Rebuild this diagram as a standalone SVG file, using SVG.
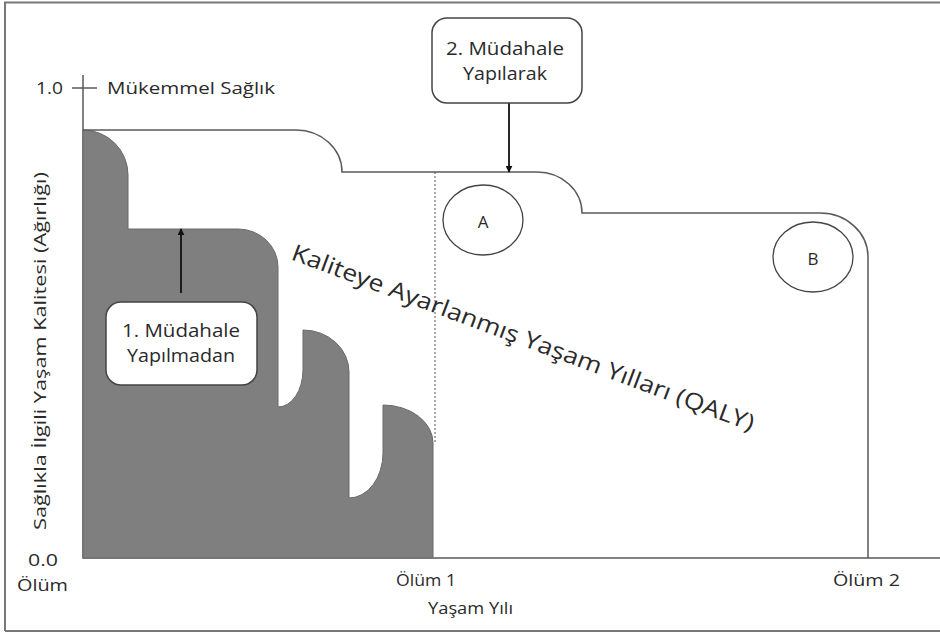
<svg xmlns="http://www.w3.org/2000/svg" width="940" height="635" viewBox="0 0 940 635">
<defs>
<marker id="ah" viewBox="0 0 10 10" refX="9" refY="5" markerWidth="7" markerHeight="7" markerUnits="userSpaceOnUse" orient="auto">
<path d="M0,0 L10,5 L0,10 Z" fill="#111"/>
</marker>
<style>
text{font-family:"Open Sans","Liberation Sans",Arial,sans-serif;fill:#2a2a2a;}
.t{font-size:17px;}
.bt{font-size:18px;text-anchor:middle;}
.ln{stroke:#5a5a5a;stroke-width:1.5;fill:none;}
.box{fill:#fff;stroke:#444;stroke-width:1.5;}
.arr{stroke:#111;stroke-width:1.8;fill:none;marker-end:url(#ah);}
.circ{fill:none;stroke:#444;stroke-width:1.3;}
</style>
</defs>
<rect width="940" height="635" fill="#fff"/>
<g id="frame">
<path d="M5,631 L5,2.5 L940,2.5 M5,631 L940,631" fill="none" stroke="#777" stroke-width="2"/>
</g>
<g id="axes">
<path class="ln" d="M83,75 L83,558 L940,558 M72,88 L97,88" stroke="#666"/>
<text class="t" x="36" y="94" textLength="27" lengthAdjust="spacingAndGlyphs">1.0</text>
<text class="t" x="107" y="94" textLength="168" lengthAdjust="spacingAndGlyphs">Mükemmel Sağlık</text>
<text class="t" x="28" y="566" textLength="30" lengthAdjust="spacingAndGlyphs">0.0</text>
<text class="t" x="17" y="591" textLength="51" lengthAdjust="spacingAndGlyphs">Ölüm</text>
<text class="t" x="396" y="586" textLength="60" lengthAdjust="spacingAndGlyphs">Ölüm 1</text>
<text class="t" x="833" y="586" textLength="67" lengthAdjust="spacingAndGlyphs">Ölüm 2</text>
<text x="428" y="614" font-size="16" textLength="85" lengthAdjust="spacingAndGlyphs">Yaşam Yılı</text>
<text x="0" y="0" font-size="17" text-anchor="middle" transform="translate(46,351) rotate(-90)" textLength="358" lengthAdjust="spacingAndGlyphs">Sağlıkla İlgili Yaşam Kalitesi (Ağırlığı)</text>
</g>
<g id="without-intervention-area">
<path d="M83,558 L83,130 A45,45 0 0 1 128,175 L128,229 L238,229 A40,38 0 0 1 278,267 L278,407 A25,37 0 0 0 303,370 L303,330 A46,42 0 0 1 349,372 L349,498 A34,45 0 0 0 383,453 L383,405 A50,38 0 0 1 433,443 L433,558 Z" fill="#7f7f7f" stroke="#6a6a6a" stroke-width="1"/>
</g>
<g id="with-intervention-curve">
<path class="ln" d="M83,130 L296,130 A46,42 0 0 1 342,172 L537,172 A45,41 0 0 1 582,213 L820,213 A48,44 0 0 1 868,257 L868,558"/>
<path d="M435,172 L435,443" stroke="#555" stroke-width="1" stroke-dasharray="2,2" fill="none"/>
</g>
<g id="connectors">
<line class="arr" x1="181" y1="293" x2="181" y2="229"/>
<line class="arr" x1="509" y1="103" x2="509" y2="172"/>
</g>
<g id="box1">
<rect class="box" x="106" y="302" width="151" height="83" rx="15"/>
<text class="bt" x="181" y="337" textLength="118" lengthAdjust="spacingAndGlyphs">1. Müdahale</text>
<text class="bt" x="181" y="362" textLength="108" lengthAdjust="spacingAndGlyphs">Yapılmadan</text>
</g>
<g id="box2">
<rect class="box" x="432" y="18" width="150" height="85" rx="15"/>
<text class="bt" x="505" y="55" textLength="118" lengthAdjust="spacingAndGlyphs">2. Müdahale</text>
<text class="bt" x="505" y="80" textLength="84" lengthAdjust="spacingAndGlyphs">Yapılarak</text>
</g>
<g id="circleA">
<ellipse class="circ" cx="483" cy="220" rx="40" ry="35"/>
<text x="483" y="228" font-size="17" text-anchor="middle">A</text>
</g>
<g id="circleB">
<ellipse class="circ" cx="813" cy="257" rx="40" ry="35"/>
<text x="813" y="265" font-size="17" text-anchor="middle">B</text>
</g>
<g id="qaly-label">
<text x="290" y="259" font-size="23" fill="#222" transform="rotate(20.5 290 259)" textLength="492" lengthAdjust="spacingAndGlyphs">Kaliteye Ayarlanmış Yaşam Yılları (QALY)</text>
</g>
</svg>
